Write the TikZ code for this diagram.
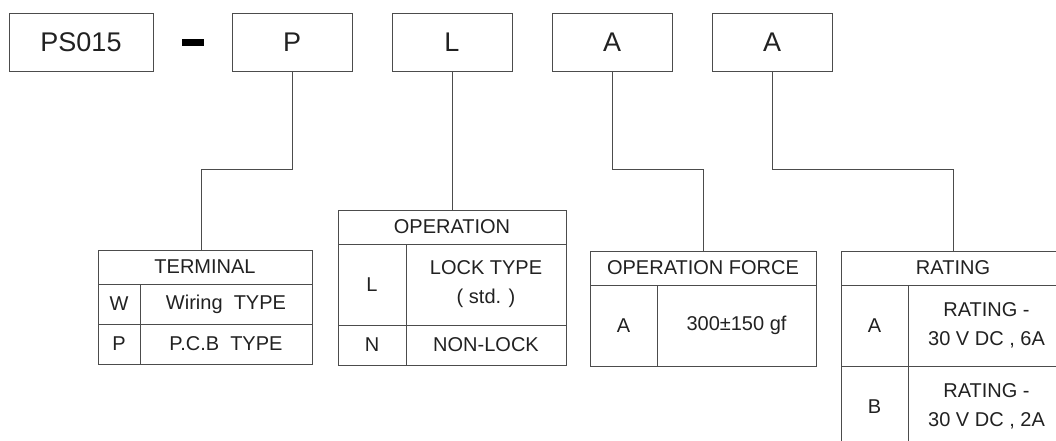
\documentclass[tikz,border=0pt]{standalone}
\usepackage{fontspec}
\setmainfont{Liberation Sans}
\usetikzlibrary{positioning}
\definecolor{linegray}{gray}{0.3}
\definecolor{textgray}{gray}{0.13}
\newcommand{\tabfont}{\fontsize{20}{29}\selectfont}

\begin{document}
\begin{tikzpicture}[x=1pt, y=-1pt, line width=1pt,
  codebox/.style={draw=linegray, minimum width=120pt, minimum height=58pt, inner sep=0pt, outer sep=0pt, text=textgray, font=\fontsize{27}{30}\selectfont},
  cell/.style={draw=linegray, inner sep=0pt, outer sep=0pt, align=center, text=textgray, font=\tabfont},
  link/.style={draw=linegray, line width=1pt}]
\useasboundingbox (0,0) rectangle (1056,440);
% part number
\node[codebox, minimum width=144pt, anchor=center] (ps) at (81,42) {PS015};
\node[fill=black, minimum width=22pt, minimum height=7pt, inner sep=0pt, outer sep=0pt, right=29pt of ps] (dash) {};
\node[codebox, right=79pt of ps] (term) {P};
\node[codebox, right=40pt of term] (oper) {L};
\node[codebox, right=40pt of oper] (force) {A};
\node[codebox, right=40pt of force] (rate) {A};
% terminal
\node[cell, minimum width=214pt, minimum height=34pt, anchor=north west] (termhead) at (98,250) {TERMINAL};
\node[cell, minimum width=42pt, minimum height=40pt, below right=0pt and 0pt of termhead.south west] (termw) {W};
\node[cell, minimum width=172pt, minimum height=40pt, right=0pt of termw] (termwval) {Wiring~~TYPE};
\node[cell, minimum width=42pt, minimum height=40pt, below=0pt of termw] (termp) {P};
\node[cell, minimum width=172pt, minimum height=40pt, right=0pt of termp] (termpval) {P.C.B~~TYPE};
% operation
\node[cell, minimum width=228pt, minimum height=34pt, anchor=north west] (ophead) at (338,210) {OPERATION};
\node[cell, minimum width=68pt, minimum height=81pt, below right=0pt and 0pt of ophead.south west] (opl) {L};
\node[cell, minimum width=160pt, minimum height=81pt, right=0pt of opl] (oplval) {LOCK TYPE\\( std. )};
\node[cell, minimum width=68pt, minimum height=40pt, below=0pt of opl] (opn) {N};
\node[cell, minimum width=160pt, minimum height=40pt, right=0pt of opn] (opnval) {NON-LOCK};
% operation force
\node[cell, minimum width=226pt, minimum height=34pt, anchor=north west] (forcehead) at (590,251) {OPERATION FORCE};
\node[cell, minimum width=67pt, minimum height=81pt, below right=0pt and 0pt of forcehead.south west] (forcea) {A};
\node[cell, minimum width=159pt, minimum height=81pt, right=0pt of forcea] (forceaval) {300±150 gf};
% rating
\node[cell, minimum width=224pt, minimum height=34pt, anchor=north west] (ratehead) at (841,251) {RATING};
\node[cell, minimum width=67pt, minimum height=81pt, below right=0pt and 0pt of ratehead.south west] (ratea) {A};
\node[cell, minimum width=157pt, minimum height=81pt, right=0pt of ratea] (rateaval) {RATING -\\30 V DC , 6A};
\node[cell, minimum width=67pt, minimum height=81pt, below=0pt of ratea] (rateb) {B};
\node[cell, minimum width=157pt, minimum height=81pt, right=0pt of rateb] (ratebval) {RATING -\\30 V DC , 2A};
% links
\draw[link] (term.south) -- ++(0,98) -| ([xshift=-4pt]termhead.north);
\draw[link] (oper.south) -- (ophead.north);
\draw[link] (force.south) -- ++(0,98) -| (forcehead.north);
\draw[link] (rate.south) -- ++(0,98) -| (ratehead.north);
\end{tikzpicture}
\end{document}
